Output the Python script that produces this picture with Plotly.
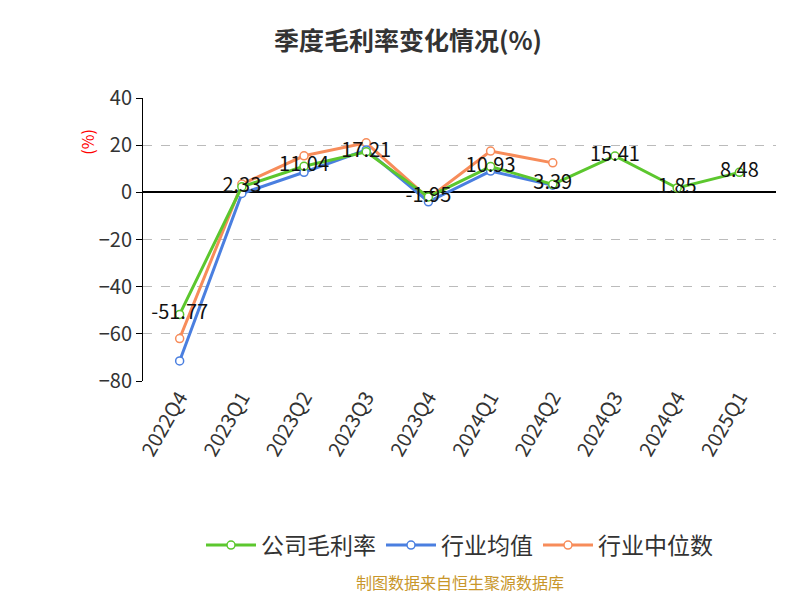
import plotly.graph_objects as go

quarters = ["2022Q4","2023Q1","2023Q2","2023Q3","2023Q4","2024Q1","2024Q2","2024Q3","2024Q4","2025Q1"]
company = [-51.77, 2.33, 11.04, 17.21, -1.95, 10.93, 3.39, 15.41, 1.85, 8.48]
industry_avg = [-71.5, -0.5, 8.5, 18.0, -4.0, 9.0, 3.0, None, None, None]
industry_med = [-62.0, 3.5, 15.5, 21.0, -2.5, 17.5, 12.5, None, None, None]

fig = go.Figure()
fig.add_trace(go.Scatter(x=quarters, y=industry_med, name="行业中位数", mode="lines+markers",
    line=dict(color="#f78c5a", width=3), marker=dict(size=8, color="white", line=dict(color="#f78c5a", width=1.5))))
fig.add_trace(go.Scatter(x=quarters, y=industry_avg, name="行业均值", mode="lines+markers",
    line=dict(color="#4a7fe0", width=3), marker=dict(size=8, color="white", line=dict(color="#4a7fe0", width=1.5))))
fig.add_trace(go.Scatter(x=quarters, y=company, name="公司毛利率", mode="lines+markers+text",
    text=[f"{v:.2f}" for v in company], textposition="middle center",
    textfont=dict(size=20, color="#111"),
    line=dict(color="#5cc72e", width=3), marker=dict(size=8, color="white", line=dict(color="#5cc72e", width=1.5))))

fig.update_layout(
    width=800, height=600, paper_bgcolor="white", plot_bgcolor="white",
    font=dict(family="Noto Sans CJK SC, Noto Sans", color="#333"),
    title=dict(text="<b>季度毛利率变化情况(%)</b>", x=0.5, y=0.96, xanchor="center", font=dict(size=25, color="#333")),
    margin=dict(l=135, r=32, t=90, b=227),
    showlegend=True,
    legend=dict(orientation="h", x=0.5, xanchor="center", y=-0.58, yanchor="middle",
                font=dict(size=23, color="#333"), traceorder="reversed", itemwidth=50),
    xaxis=dict(type="category", tickangle=-60, tickfont=dict(size=20, color="#333"), showgrid=False,
               showline=False, ticks="", automargin=False),
    yaxis=dict(range=[-80, 40], dtick=20, tickfont=dict(size=20, color="#333"), automargin=False,
               showgrid=True, gridcolor="#bbb", griddash="dash", zeroline=True, zerolinecolor="#000",
               zerolinewidth=1.5, showline=True, linecolor="#000", ticks="outside", ticklen=6, tickcolor="#000"),
)
fig.add_annotation(text="(%)", x=-0.11, y=0.9, xref="paper", yref="paper", textangle=-90,
                   showarrow=False, font=dict(size=16, color="red"))
fig.add_annotation(text="制图数据来自恒生聚源数据库", x=0.5, y=-0.76, xref="paper", yref="paper",
                   showarrow=False, font=dict(size=16, color="#c8962a"))
fig.write_html("out.html")
